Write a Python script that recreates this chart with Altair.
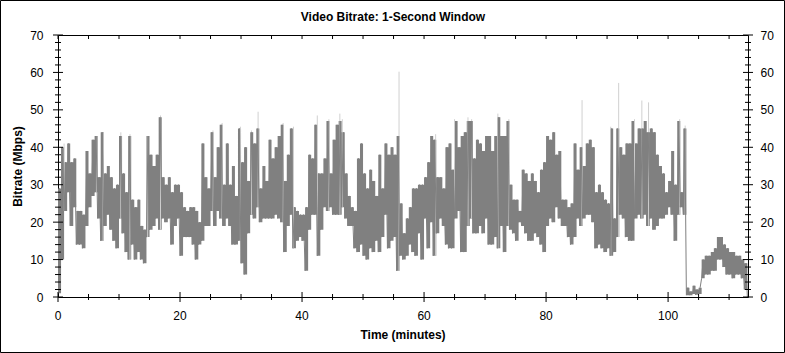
import altair as alt
import pandas as pd

# Per half-minute bucket: lowest and highest bitrate (Mbps)
low = [1, 10, 23, 28, 19, 24, 14, 14, 13, 19, 24, 27, 28, 21, 15, 19, 22, 18, 15, 13,
       21, 17, 12, 10, 14, 10, 12, 10, 9, 16, 18, 19, 21, 18, 21, 20, 21, 14, 19, 21,
       11, 16, 16, 16, 14, 10, 14, 15, 19, 19, 23, 19, 23, 21, 19, 21, 19, 14, 14, 15,
       9, 6, 17, 22, 21, 24, 20, 21, 21, 21, 21, 22, 21, 20, 12, 19, 22, 13, 15, 16,
       15, 7, 18, 22, 22, 11, 18, 24, 23, 24, 22, 22, 22, 24, 21, 19, 19, 13, 12, 14,
       11, 10, 13, 12, 15, 12, 16, 22, 13, 15, 16, 7, 11, 10, 11, 14, 12, 11, 17, 10,
       21, 13, 20, 11, 17, 21, 19, 14, 13, 13, 21, 23, 12, 12, 19, 21, 17, 17, 19, 17,
       21, 14, 14, 16, 13, 19, 12, 19, 18, 17, 15, 20, 19, 17, 15, 15, 17, 16, 14, 12,
       19, 21, 20, 24, 21, 19, 19, 16, 14, 16, 21, 19, 21, 22, 22, 20, 13, 14, 13, 12,
       13, 11, 12, 16, 22, 21, 16, 15, 15, 21, 22, 21, 22, 19, 21, 18, 19, 21, 21, 22,
       24, 22, 15, 22, 24, 22, 0.5, 0.5, 0.8, 0.6, 0.8, 5, 6, 6, 7, 7, 10, 10, 8, 6,
       6, 5, 6, 6, 5, 2, 0]
high = [29, 40, 36, 41, 36, 37, 23, 23, 22, 39, 33, 42, 43, 32, 44, 33, 35, 32, 29, 30,
        43, 33, 28, 43, 26, 24, 26, 19, 18, 43, 38, 35, 38, 48, 32, 30, 32, 28, 30, 30,
        28, 24, 23, 24, 24, 23, 20, 41, 32, 29, 44, 32, 40, 46, 30, 41, 30, 35, 27, 45,
        36, 40, 31, 44, 41, 45, 29, 35, 31, 42, 37, 40, 43, 46, 31, 38, 45, 24, 23, 22,
        22, 24, 38, 37, 46, 33, 33, 37, 47, 33, 42, 46, 47, 44, 33, 27, 24, 23, 37, 41,
        33, 29, 34, 31, 27, 38, 29, 41, 38, 40, 38, 43, 25, 17, 21, 24, 29, 29, 30, 30,
        32, 36, 43, 42, 32, 32, 29, 40, 41, 34, 47, 40, 43, 44, 47, 47, 37, 42, 41, 39,
        43, 43, 39, 43, 48, 43, 43, 47, 30, 26, 26, 23, 34, 33, 31, 33, 31, 28, 34, 36,
        43, 42, 44, 38, 39, 26, 26, 24, 25, 41, 34, 40, 35, 41, 42, 40, 28, 30, 28, 26,
        25, 45, 21, 45, 40, 38, 41, 41, 47, 41, 45, 45, 47, 44, 45, 44, 38, 35, 33, 28,
        31, 39, 30, 47, 28, 45, 2.5, 1.5, 3, 2, 2.5, 10, 11, 11, 12, 13, 16, 16, 14, 13,
        12, 12, 11, 11, 10, 9, 0]

# Short peaks (light grey) above the band: time (minutes) and value (Mbps)
spike_t = [1.0, 6.3, 7.4, 10.3, 11.8, 14.7, 16.8, 25.4, 26.9, 29.9, 31.7, 32.8, 36.9,
           38.6, 42.5, 44.4, 46.2, 46.6, 55.9, 61.9, 65.0, 67.2, 67.8, 72.1, 73.9, 85.9,
           90.6, 91.9, 94.5, 95.7, 96.8, 101.9, 102.8]
spike_v = [41, 43, 44, 44, 43.5, 43, 48.5, 44.5, 46.5, 45.5, 44.5, 49.5, 46.5,
           45.5, 48.5, 47.5, 49, 47.5, 60.2, 43.5, 47.5, 48, 47.5, 49, 47.5, 52.6,
           45.5, 57.2, 47.5, 52.5, 52, 47.5, 45.8]

x_major = [0, 20, 40, 60, 80, 100]
x_minor = [5, 10, 15, 25, 30, 35, 45, 50, 55, 65, 70, 75, 85, 90, 95, 105, 110]
y_major = [0, 10, 20, 30, 40, 50, 60, 70]
y_minor = [v for v in range(0, 71, 2) if v % 10 != 0]

TITLE = "Video Bitrate: 1-Second Window"
X_TITLE = "Time (minutes)"
Y_TITLE = "Bitrate (Mbps)"
STEP = 0.5
X_MAX = 113.1
W, H = 690, 262
FONT = "Liberation Sans"
DARK = "#808080"
LIGHT = "#d0d0d0"

band_df = pd.DataFrame({
    "t": [i * STEP for i in range(len(low))],
    "lo": low,
    "hi": high,
})

rows = []
for i, (lo, hi) in enumerate(zip(low, high)):
    t = i * STEP
    rows.append({"t": t, "v": lo, "k": 2 * i})
    rows.append({"t": t + STEP / 2, "v": hi, "k": 2 * i + 1})
line_df = pd.DataFrame(rows)

spike_df = pd.DataFrame({
    "t": spike_t,
    "v": spike_v,
    "base": [low[int(t // STEP)] for t in spike_t],
})

xs = alt.Scale(domain=[0, X_MAX], nice=False, zero=False)
ys = alt.Scale(domain=[0, 70], nice=False)

left_axis = alt.Axis(values=y_major, ticks=False, domain=False, grid=False,
                     labelPadding=15, labelFont=FONT, labelFontSize=12, labelColor="black",
                     title=Y_TITLE, titleFont=FONT, titleFontSize=12,
                     titleFontWeight="bold", titleColor="black", titleAngle=270,
                     titleX=-41, titleY=H / 2, titleBaseline="middle", titleAlign="center")

right_axis = alt.Axis(values=y_major, orient="right", ticks=False, domain=False,
                      grid=False, labelPadding=12, labelFont=FONT, labelFontSize=12,
                      labelColor="black", title="")

spikes = alt.Chart(spike_df).mark_rule(color=LIGHT, strokeWidth=1).encode(
    x=alt.X("t:Q", scale=xs, axis=None),
    y=alt.Y("v:Q", scale=ys, axis=right_axis),
    y2="base:Q",
)

band = alt.Chart(band_df).mark_area(color=DARK, interpolate="step-after", clip=True).encode(
    x=alt.X("t:Q", scale=xs, axis=None),
    y=alt.Y("lo:Q", scale=ys, axis=left_axis),
    y2="hi:Q",
)

line = alt.Chart(line_df).mark_line(color=DARK, strokeWidth=1, clip=True).encode(
    x=alt.X("t:Q", scale=xs, axis=None),
    y=alt.Y("v:Q", scale=ys, axis=None),
    order="k:Q",
)

tick_x_major = pd.DataFrame({"x": x_major, "lab": [str(v) for v in x_major]})
tick_x_minor = pd.DataFrame({"x": x_minor})
tick_x_all = pd.DataFrame({"x": x_major + x_minor})
tick_y_major = pd.DataFrame({"y": y_major})
tick_y_minor = pd.DataFrame({"y": y_minor})

def xrule(df, y0, y1):
    return alt.Chart(df).mark_rule(color="black", strokeWidth=1).encode(
        x=alt.X("x:Q", scale=xs, axis=None),
        y=alt.value(y0), y2=alt.value(y1))

def yrule(df, x0, x1):
    return alt.Chart(df).mark_rule(color="black", strokeWidth=1).encode(
        y=alt.Y("y:Q", scale=ys, axis=None),
        x=alt.value(x0), x2=alt.value(x1))

ticks = [
    xrule(tick_x_major, H - 5, H + 5),
    xrule(tick_x_minor, H - 3, H + 3),
    xrule(tick_x_all, 0, 4),
    yrule(tick_y_major, -5, 5),
    yrule(tick_y_minor, -3, 3),
    yrule(tick_y_major, W - 5, W + 5),
    yrule(tick_y_minor, W - 3, W + 3),
]

x_labels = alt.Chart(tick_x_major).mark_text(
    font=FONT, fontSize=12, color="black", align="center", baseline="middle"
).encode(x=alt.X("x:Q", scale=xs, axis=None), y=alt.value(H + 19), text="lab:N")

deco_df = pd.DataFrame({"title": [TITLE], "xtitle": [X_TITLE]})
title_mark = alt.Chart(deco_df).mark_text(
    font=FONT, fontSize=12, fontWeight="bold", color="black",
    align="center", baseline="middle"
).encode(text="title:N", x=alt.value(335), y=alt.value(-18))

x_title_mark = alt.Chart(deco_df).mark_text(
    font=FONT, fontSize=12, fontWeight="bold", color="black",
    align="center", baseline="middle"
).encode(text="xtitle:N", x=alt.value(W / 2), y=alt.value(H + 38))

border = alt.Chart(deco_df).mark_rect(
    fillOpacity=0, stroke="black", strokeWidth=1
).encode(
    x=alt.value(-57.5), x2=alt.value(726.5), y=alt.value(-34.5), y2=alt.value(317.5)
)

chart = alt.layer(band, spikes, line, *ticks, x_labels, title_mark, x_title_mark,
                  border).resolve_scale(
    y="independent"
).properties(
    width=W,
    height=H,
    autosize=alt.AutoSizeParams(type="none"),
    padding={"left": 58, "top": 35, "right": 37, "bottom": 56},
    background="white",
).configure_view(stroke="black", strokeWidth=1)

chart.save("out.html", embed_options={"renderer": "svg", "actions": False})
